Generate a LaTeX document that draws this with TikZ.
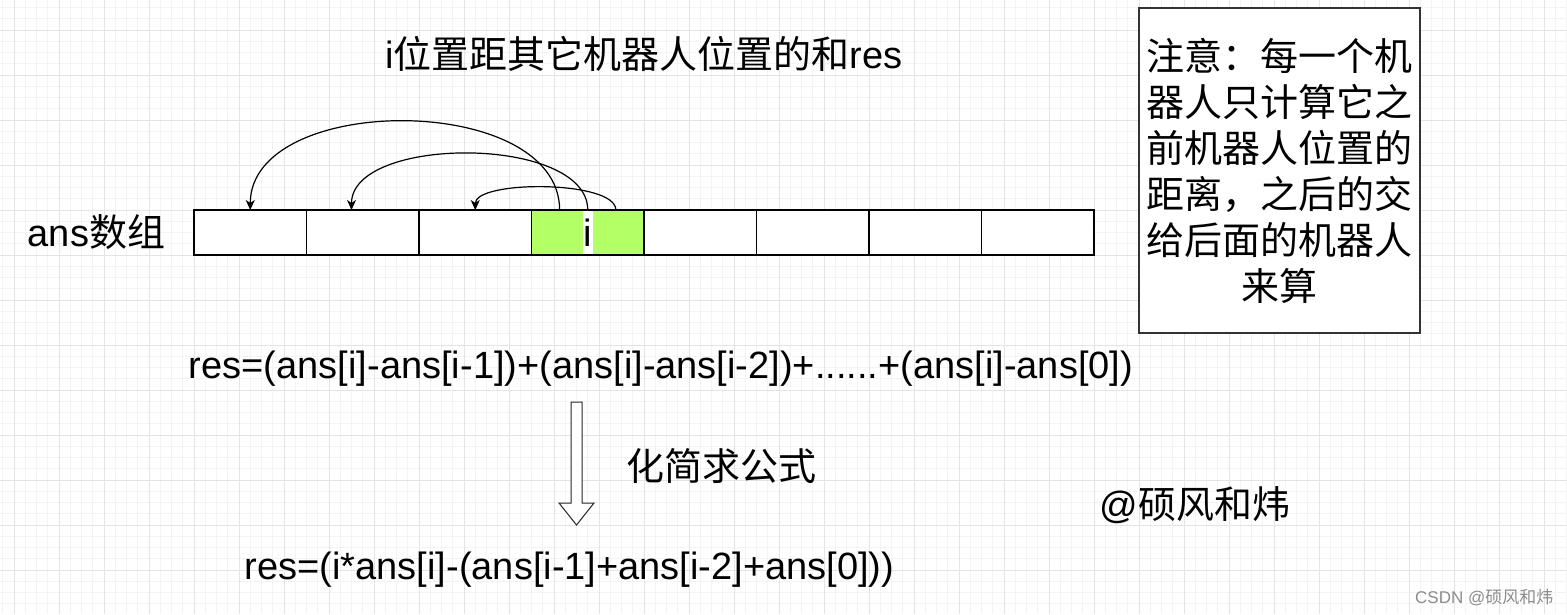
\documentclass[tikz,border=0pt]{standalone}
\usepackage{fontspec}
\setmainfont{Liberation Sans}
\newfontfamily\cjk{Noto Sans CJK SC}
\usetikzlibrary{arrows.meta,calc}
\definecolor{gminorc}{HTML}{F3F3F3}
\definecolor{gmajorc}{HTML}{E4E4E4}
\definecolor{cellgreen}{HTML}{B3FF66}
\definecolor{notebd}{HTML}{333333}
\begin{document}
\begin{tikzpicture}[x=1pt,y=-1pt,
  gminor/.style={draw=gminorc,line width=1pt},
  gmajor/.style={draw=gmajorc,line width=1pt},
  cell/.style={draw=black,fill=white,line width=1.2pt,minimum width=112.5pt,minimum height=45pt,inner sep=0pt,outer sep=0pt,anchor=north west},
  conn/.style={draw=black,line width=1.2pt,-{Stealth[length=10pt,width=9pt,inset=3pt]}},
  big/.style={font=\fontsize{38}{40}\selectfont},
  lbl/.style={big,anchor=base,inner sep=0pt}]
\useasboundingbox (0,0) rectangle (1567,614);
\fill[white] (0,0) rectangle (1567,614);
% grid
\foreach \k in {-1,...,139} \draw[gminor] ({14+11.25*\k},0) -- ({14+11.25*\k},614);
\foreach \k in {-2,...,52} \draw[gminor] (0,{30+11.25*\k}) -- (1567,{30+11.25*\k});
\foreach \k in {0,...,34} \draw[gmajor] ({14+45*\k},0) -- ({14+45*\k},614);
\foreach \k in {0,...,13} \draw[gmajor] (0,{30+45*\k}) -- (1567,{30+45*\k});
% title
\node[lbl] (title) at (644,68) {i{\cjk 位置距其它机器人位置的和}res};
% array label
\node[lbl] (anslbl) at (96.5,246) {ans{\cjk 数组}};
% cells
\foreach \k in {1,2,3,5,6,7,8} \node[cell] (c\k) at ({194+112.5*(\k-1)},210) {};
\node[cell,fill=cellgreen] (c4) at ({194+112.5*3},210) {};
\node[big,fill=white,inner xsep=0.6pt,inner ysep=0pt,minimum height=43.6pt] (ilab) at (c4.center) {i};
% arcs
\coordinate (s1) at ($(c4.north west)!0.25!(c4.north east)$);
\coordinate (s2) at (c4.north);
\coordinate (s3) at ($(c4.north west)!0.75!(c4.north east)$);
\coordinate (e2) at ($(c2.north west)!0.4!(c2.north east)$);
\draw[conn] (s1) .. controls +(0,-118) and +(0,-118) .. (c1.north);
\draw[conn] (s2) .. controls +(0,-75) and +(0,-75) .. (e2);
\draw[conn] (s3) .. controls +(0,-30) and +(0,-30) .. (c3.north);
% note box
\node[draw=notebd,line width=1.2pt,fill=white,minimum width=281pt,minimum height=325pt,inner sep=0pt,align=center,font=\cjk\fontsize{38}{46}\selectfont] (note) at (1279.5,170.5)
  {注意：每一个机\\器人只计算它之\\前机器人位置的\\距离，之后的交\\给后面的机器人\\来算};
% formulas
\node[lbl] (f1) at (661,378) {res=(ans[i]-ans[i-1])+(ans[i]-ans[i-2])+......+(ans[i]-ans[0])};
\draw[draw=black!85,fill=white,line width=1pt] (571,402) -- (582,402) -- (582,503) -- (594,503) -- (576.5,525) -- (559,503) -- (571,503) -- cycle;
\node[lbl] (simp) at (721,480) {\cjk 化简求公式};
\node[lbl] (f2) at (569.5,579) {res=(i*ans[i]-(ans[i-1]+ans[i-2]+ans[0]))};
\node[lbl] (author) at (1195,518) {@{\cjk 硕风和炜}};
\node[anchor=base west,inner sep=0pt,text=black!45,font=\fontsize{17}{18}\selectfont] (wm) at (1415,603) {CSDN @{\cjk 硕风和炜}};
\end{tikzpicture}
\end{document}
